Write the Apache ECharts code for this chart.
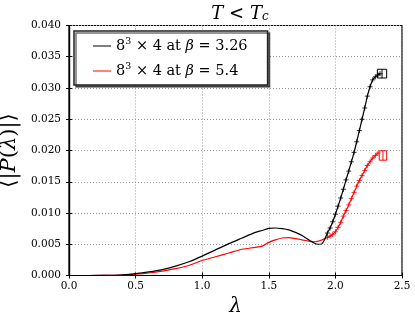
<!DOCTYPE html>
<html><head><meta charset="utf-8">
<script src="https://cdn.jsdelivr.net/npm/echarts@6/dist/echarts.min.js"></script>
<style>html,body{margin:0;padding:0;background:#fff}#c{width:415px;height:313px}</style>
</head><body><div id="c"></div>
<script>
// ---- data ----
const blackLambda = [0.0,0.1,0.2,0.3,0.4,0.5,0.6,0.7,0.8,0.9,1.0,1.1,1.2,1.3,1.4,1.45,1.5,1.55,1.6,1.65,1.7,1.75,1.8,1.84,1.87,1.9,1.92,1.94,1.96,1.98,2.00,2.02,2.04,2.06,2.08,2.10,2.12,2.14,2.16,2.18,2.20,2.22,2.24,2.26,2.28,2.30,2.32,2.335];
const blackValue  = [0,0,0.00001,0.00004,0.00012,0.0003,0.00058,0.00095,0.0015,0.0022,0.0031,0.0041,0.0051,0.0060,0.0069,0.0072,0.00755,0.0076,0.0075,0.0073,0.0069,0.0064,0.0057,0.0052,0.0050,0.0051,0.0058,0.0068,0.0076,0.0086,0.0098,0.0111,0.0124,0.0138,0.0153,0.0167,0.0182,0.0197,0.0214,0.0232,0.0250,0.0268,0.0287,0.0302,0.0313,0.0318,0.0321,0.0323];
const redLambda = [0.0,0.1,0.2,0.3,0.4,0.5,0.6,0.7,0.8,0.9,1.0,1.1,1.2,1.3,1.4,1.45,1.5,1.55,1.6,1.65,1.7,1.75,1.8,1.85,1.9,1.92,1.94,1.96,1.98,2.00,2.02,2.04,2.06,2.08,2.10,2.12,2.14,2.16,2.18,2.20,2.22,2.24,2.26,2.28,2.30,2.32];
const redValue  = [0,0,0,0.00002,0.00008,0.0002,0.0004,0.0007,0.0011,0.0016,0.0024,0.0030,0.0036,0.0042,0.0045,0.0047,0.0053,0.0057,0.0060,0.00605,0.0059,0.0057,0.0055,0.0054,0.0057,0.0059,0.0061,0.0063,0.0066,0.0070,0.0077,0.0085,0.0095,0.0104,0.0113,0.0123,0.0133,0.0143,0.0152,0.0160,0.0168,0.0176,0.0182,0.0188,0.0192,0.0196];
// end-point error boxes: [lambda, value, valueError, lambdaError]
const blackEnd = [[2.35, 0.0323, 0.0007, 0.035]];
const redEnd   = [[2.357, 0.0192, 0.00075, 0.028]];
const xTicks = [0.0,0.5,1.0,1.5,2.0,2.5];
const yTicks = [0.000,0.005,0.010,0.015,0.020,0.025,0.030,0.035,0.040];
const seriesNames = ['b326','b54'];

const SERIF = "'DejaVu Serif','Liberation Serif',serif";
const pair = (xs, ys) => xs.map((x,i)=>[x, ys[i]]);
const plus = 'path://M0,5L10,5M5,0L5,10';
const sym = v => v[0] >= 1.93 ? plus : 'none';

function boxRender(color){
  return function(params, api){
    const x = api.value(0), y = api.value(1), ey = api.value(2), ex = api.value(3);
    const p1 = api.coord([x-ex, y+ey]);
    const p2 = api.coord([x+ex, y-ey]);
    const pc = api.coord([x, y]);
    const st = {stroke: color, lineWidth: 1, fill: null};
    return {type:'group', children:[
      {type:'rect', shape:{x:p1[0], y:p1[1], width:p2[0]-p1[0], height:p2[1]-p1[1]}, style:st},
      {type:'line', shape:{x1:pc[0], y1:p1[1], x2:pc[0], y2:p2[1]}, style:st}
    ]};
  };
}

const chart = echarts.init(document.getElementById('c'), null, {renderer:'canvas'});
const axisCommon = {
  axisLine:{show:true, lineStyle:{color:'#000', width:1.2}},
  axisTick:{show:true, inside:true, length:3, lineStyle:{color:'#000', width:1}},
};
chart.setOption({
  animation:false,
  backgroundColor:'#fff',
  title:{
    text:'{i|T} < {i|T}{sub|c}', left:235, textAlign:'center', top:0,
    textStyle:{fontFamily:SERIF, fontSize:18, fontWeight:'normal', color:'#000',
      rich:{i:{fontStyle:'italic', fontFamily:SERIF, fontSize:18}, sub:{fontStyle:'italic', fontFamily:SERIF, fontSize:12, verticalAlign:'bottom', padding:[6,0,0,0]}}}
  },
  legend:{
    left:74, top:31, orient:'vertical', itemGap:7,
    padding:[6,20,5,19],
    backgroundColor:'#fff', borderColor:'#222', borderWidth:1.5,
    shadowColor:'rgba(0,0,0,0.55)', shadowOffsetX:2, shadowOffsetY:2, shadowBlur:0,
    itemWidth:18, itemHeight:1, icon:'rect',
    itemStyle:{borderWidth:0},
    data:[{name:seriesNames[0], itemStyle:{color:'#000', borderWidth:0}}, {name:seriesNames[1], itemStyle:{color:'#ff0000', borderWidth:0}}],
    formatter: n => n === seriesNames[0] ? '8{sup|3} × 4 at {i|β} = 3.26' : '8{sup|3} × 4 at {i|β} = 5.4',
    textStyle:{fontFamily:SERIF, fontSize:14.5, color:'#000', lineHeight:18,
      rich:{sup:{fontFamily:SERIF, fontSize:9.5, verticalAlign:'top', padding:[0,0,8,0]}, i:{fontFamily:SERIF, fontStyle:'italic', fontSize:14.5}}}
  },
  grid:{left:69, right:13, top:25.5, bottom:37.5, show:true, borderColor:'#000', borderWidth:1.2, outerBoundsMode:'none', containLabel:false},
  xAxis:[{
    type:'value', min:xTicks[0], max:xTicks[xTicks.length-1], interval:0.5,
    ...axisCommon,
    axisLabel:{formatter:v=>v.toFixed(1), fontFamily:SERIF, fontSize:10.5, color:'#000', margin:5},
    splitLine:{show:true, lineStyle:{color:'#9a9a9a', type:[1,2], width:1}},
    name:'λ', nameLocation:'middle', nameGap:20,
    nameTextStyle:{fontFamily:SERIF, fontStyle:'italic', fontSize:20, color:'#000'}
  },{
    type:'value', position:'top', min:xTicks[0], max:xTicks[xTicks.length-1], interval:0.5,
    ...axisCommon, axisLabel:{show:false}, splitLine:{show:false}
  }],
  yAxis:[{
    type:'value', min:yTicks[0], max:yTicks[yTicks.length-1], interval:0.005,
    ...axisCommon,
    axisLabel:{formatter:v=>v.toFixed(3), fontFamily:SERIF, fontSize:10.5, color:'#000', margin:8},
    splitLine:{show:true, lineStyle:{color:'#9a9a9a', type:[1,2], width:1}},
    name:'⟨|{i|P}({i|λ})|⟩', nameLocation:'middle', nameGap:36,
    nameTextStyle:{fontFamily:SERIF, fontSize:21, color:'#000',
      rich:{i:{fontFamily:SERIF, fontStyle:'italic', fontSize:21}}}
  },{
    type:'value', position:'right', min:yTicks[0], max:yTicks[yTicks.length-1], interval:0.005,
    ...axisCommon, axisLabel:{show:false}, splitLine:{show:false}
  }],
  series:[
    {name:seriesNames[0], type:'line', data:pair(blackLambda, blackValue), smooth:0.25,
     symbol:sym, symbolSize:[5,5], showAllSymbol:true,
     lineStyle:{color:'#000', width:1.2}, itemStyle:{color:'#000', borderColor:'#000', borderWidth:0.8}, z:3},
    {name:seriesNames[1], type:'line', data:pair(redLambda, redValue), smooth:0.25,
     symbol:sym, symbolSize:[5,5], showAllSymbol:true,
     lineStyle:{color:'#ff0000', width:1.2}, itemStyle:{color:'#ff0000', borderColor:'#ff0000', borderWidth:0.8}, z:2},
    {type:'custom', data:blackEnd, renderItem:boxRender('#000'), z:4},
    {type:'custom', data:redEnd, renderItem:boxRender('#ff0000'), z:4}
  ]
});
</script></body></html>
